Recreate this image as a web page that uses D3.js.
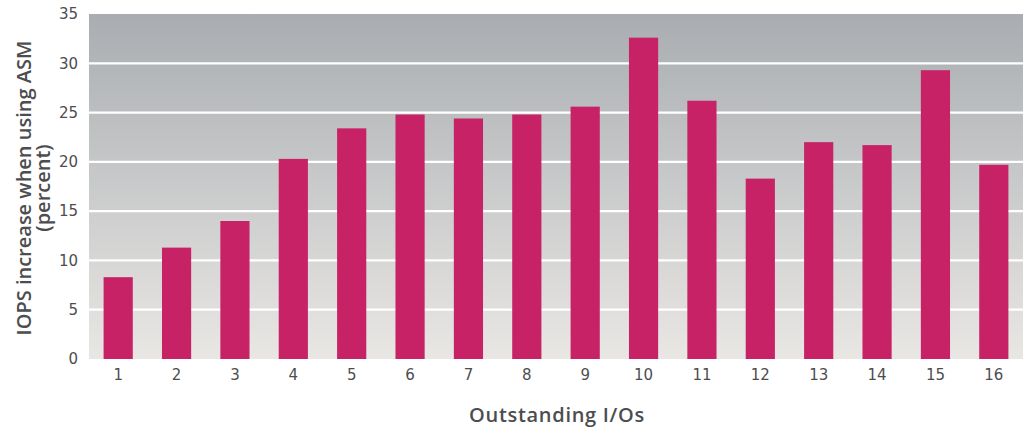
<!DOCTYPE html>
<html>
<head>
<meta charset="utf-8">
<script src="https://cdn.jsdelivr.net/npm/d3@7"></script>
<style>
  html, body { margin: 0; padding: 0; background: #ffffff; }
  svg { display: block; }
  .tick text { font-family: "DejaVu Sans", sans-serif; font-size: 15px; fill: #4d4d4f; }
  .axis-title { font-family: "Open Sans", sans-serif; font-size: 20px; font-weight: 600; fill: #4d4d4f; }
</style>
</head>
<body>
<script>
// Outstanding I/O counts on the x axis
const categories = ["1","2","3","4","5","6","7","8","9","10","11","12","13","14","15","16"];
// IOPS increase (percent) when using ASM
const iopsIncrease = [8.3, 11.3, 14.0, 20.3, 23.4, 24.8, 24.4, 24.8, 25.6, 32.6, 26.2, 18.3, 22.0, 21.7, 29.3, 19.7];
// y axis ticks
const yTicks = [0, 5, 10, 15, 20, 25, 30, 35];

const width = 1025, height = 429;
const margin = { top: 14, right: 2, bottom: 70, left: 89 };
const plotW = width - margin.left - margin.right;
const plotH = height - margin.top - margin.bottom;

const svg = d3.select("body").append("svg")
  .attr("width", width).attr("height", height);

const defs = svg.append("defs");
const grad = defs.append("linearGradient")
  .attr("id", "bg").attr("x1", 0).attr("y1", 0).attr("x2", 0).attr("y2", 1);
grad.append("stop").attr("offset", "0%").attr("stop-color", "#a9adb1");
grad.append("stop").attr("offset", "100%").attr("stop-color", "#e9e7e4");

const g = svg.append("g").attr("transform", `translate(${margin.left},${margin.top})`);

const x = d3.scaleBand().domain(categories).range([0, plotW]).paddingInner(0.5).paddingOuter(0.25);
const y = d3.scaleLinear().domain([0, 35]).range([plotH, 0]);

g.append("rect").attr("width", plotW).attr("height", plotH).attr("fill", "url(#bg)");

// horizontal gridlines
g.selectAll(".grid").data(yTicks.filter(t => t > 0 && t < 35)).join("line")
  .attr("x1", 0).attr("x2", plotW)
  .attr("y1", d => y(d)).attr("y2", d => y(d))
  .attr("stroke", "#ffffff").attr("stroke-width", 2.2);

// bars
g.selectAll(".bar").data(iopsIncrease).join("rect")
  .attr("x", (d, i) => x(categories[i]))
  .attr("width", x.bandwidth())
  .attr("y", d => y(d))
  .attr("height", d => y(0) - y(d))
  .attr("fill", "#c82267");

// y axis
const yAxis = g.append("g").call(d3.axisLeft(y).tickValues(yTicks).tickSize(0).tickPadding(11));
yAxis.select(".domain").remove();

// x axis
const xAxis = g.append("g").attr("transform", `translate(0,${plotH})`)
  .call(d3.axisBottom(x).tickSize(0).tickPadding(10));
xAxis.select(".domain").remove();

// axis titles
svg.append("text").attr("class", "axis-title")
  .attr("x", 557).attr("y", 422)
  .attr("letter-spacing", "0.7px")
  .attr("text-anchor", "middle").text("Outstanding I/Os");

const yTitle = svg.append("text").attr("class", "axis-title")
  .attr("transform", `translate(31,188) rotate(-90)`)
  .attr("text-anchor", "middle");
yTitle.append("tspan").attr("x", 0).attr("dy", 0).text("IOPS increase when using ASM");
yTitle.append("tspan").attr("x", 0).attr("dy", 19).text("(percent)");
</script>
</body>
</html>
